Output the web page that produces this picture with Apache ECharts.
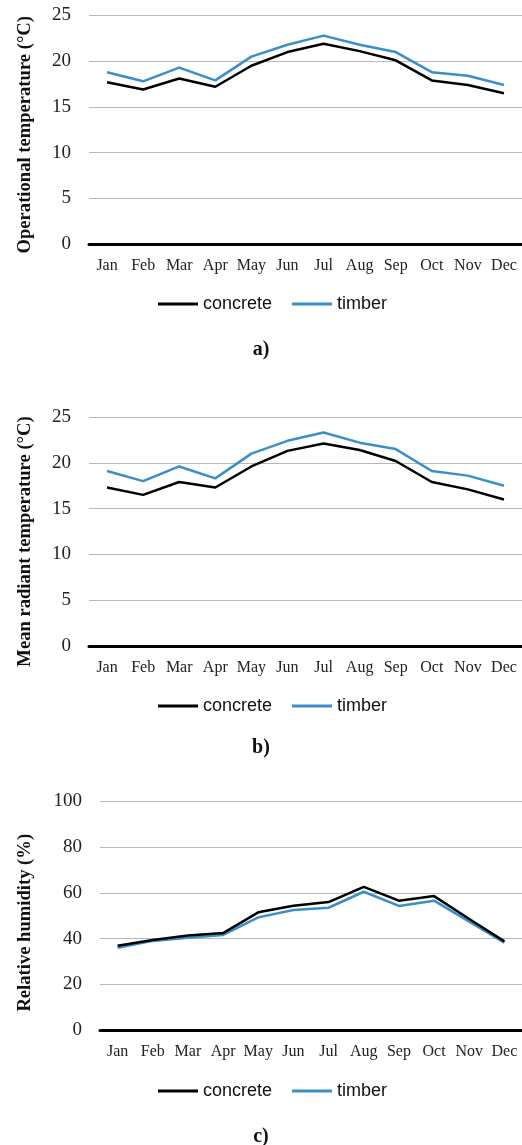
<!DOCTYPE html>
<html>
<head>
<meta charset="utf-8">
<script src="https://cdn.jsdelivr.net/npm/echarts@6/dist/echarts.min.js"></script>
<style>html,body{margin:0;padding:0;background:#fff}#c{width:522px;height:1145px}</style>
</head>
<body>
<div id="c"></div>
<script>
const months = ['Jan','Feb','Mar','Apr','May','Jun','Jul','Aug','Sep','Oct','Nov','Dec'];
const seriesNames = ['concrete','timber'];
const opConcrete = [17.7,16.9,18.1,17.2,19.5,21.0,21.9,21.1,20.1,17.9,17.4,16.5];
const opTimber   = [18.8,17.8,19.3,17.9,20.5,21.8,22.8,21.8,21.0,18.8,18.4,17.4];
const mrConcrete = [17.3,16.5,17.9,17.3,19.6,21.3,22.1,21.4,20.2,17.9,17.1,16.0];
const mrTimber   = [19.1,18.0,19.6,18.3,21.0,22.4,23.3,22.2,21.5,19.1,18.6,17.5];
const rhConcrete = [36.9,39.4,41.4,42.4,51.5,54.4,56.0,62.6,56.6,58.6,48.6,38.8];
const rhTimber   = [36.0,39.0,40.4,41.6,49.3,52.5,53.5,60.5,54.3,56.6,47.4,38.2];
const yTitles = ['Operational temperature (°C)','Mean radiant temperature (°C)','Relative humidity (%)'];
const panelLabels = ['a)','b)','c)'];

const colors = ['#000000','#3b8fc8'];
const serif = '"Liberation Serif", "Times New Roman", serif';
const sans = '"Liberation Sans", Arial, sans-serif';

const grids = [
  {left:89, right:0, top:15.5, height:228.5},
  {left:89, right:0, top:417, height:229},
  {left:100, right:0, top:801.5, height:228.5}
];
const yCfg = [
  {max:25, interval:5, gap:54, pad:[0,10,0,0]},
  {max:25, interval:5, gap:54, pad:[0,20,0,0]},
  {max:100, interval:20, gap:65, pad:[0,14,0,0]}
];
const legendTops = [290, 692, 1077];
const labelTops = [340, 738, 1127];
const dataSets = [[opConcrete,opTimber],[mrConcrete,mrTimber],[rhConcrete,rhTimber]];

const option = {
  animation:false,
  backgroundColor:'#fff',
  color: colors,
  grid: grids,
  title: panelLabels.map((t,i)=>({text:t, left:'center', top:labelTops[i], padding:0, textStyle:{fontFamily:serif, fontWeight:'bold', fontSize:20, color:'#111'}})),
  legend: legendTops.map(t=>({
    data: seriesNames, top:t, left:153, icon:'rect', itemWidth:40, itemHeight:3, itemGap:20,
    textStyle:{fontFamily:sans, fontSize:18, color:'#111'}
  })),
  xAxis: grids.map((g,i)=>({
    type:'category', gridIndex:i, data:months, boundaryGap:true,
    axisLine:{show:true, lineStyle:{color:'#000', width:3}},
    axisTick:{show:false},
    axisLabel:{fontFamily:serif, fontSize:16, color:'#222', margin:14, interval:0}
  })),
  yAxis: grids.map((g,i)=>({
    type:'value', gridIndex:i, min:0, max:yCfg[i].max, interval:yCfg[i].interval,
    name: yTitles[i], nameLocation:'middle', nameGap:yCfg[i].gap, nameRotate:90,
    nameTextStyle:{fontFamily:serif, fontWeight:'bold', fontSize:18.6, color:'#111', padding:yCfg[i].pad},
    axisLine:{show:false}, axisTick:{show:false},
    axisLabel:{fontFamily:serif, fontSize:19, color:'#222', margin:18},
    splitLine:{show:true, lineStyle:{color:'#b8b8b8', width:1}}
  })),
  series: []
};
dataSets.forEach((ds,i)=>{
  ds.forEach((d,j)=>{
    option.series.push({
      name: seriesNames[j], type:'line', xAxisIndex:i, yAxisIndex:i, data:d,
      symbol:'none', lineStyle:{width:2.5, color:colors[j]}, itemStyle:{color:colors[j]}, z: j===0?3:2
    });
  });
});
const chart = echarts.init(document.getElementById('c'), null, {renderer:'canvas'});
chart.setOption(option);
</script>
</body>
</html>
